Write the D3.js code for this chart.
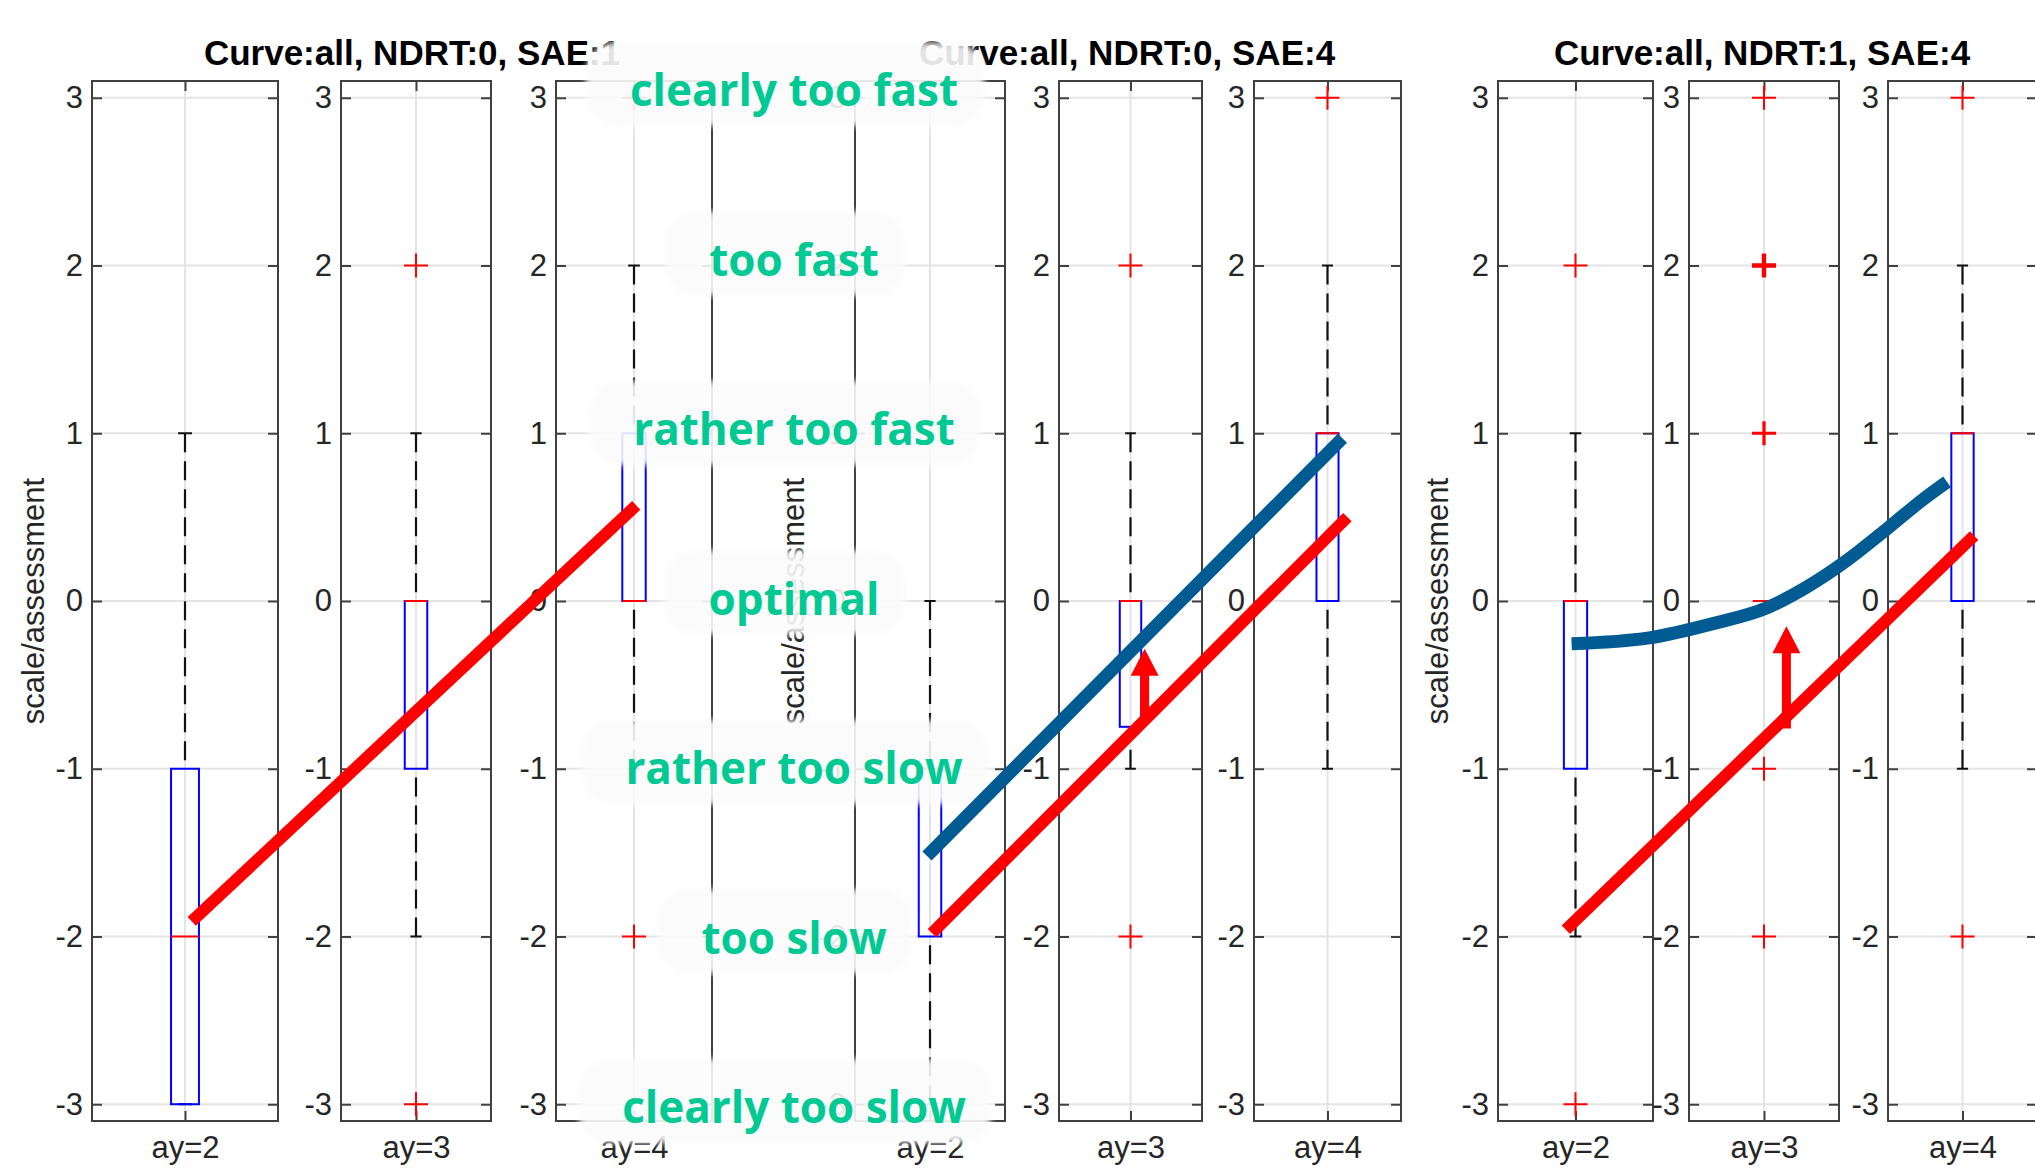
<!DOCTYPE html>
<html>
<head>
<meta charset="utf-8">
<script src="https://cdn.jsdelivr.net/npm/d3@7"></script>
<style>
  body { margin: 0; background: #fff; overflow: hidden; }
  svg { display: block; }
</style>
</head>
<body>
<div id="chart"></div>
<script>
// ---- data ----
const titles = ["Curve:all, NDRT:0, SAE:1", "Curve:all, NDRT:0, SAE:4", "Curve:all, NDRT:1, SAE:4"];
const categories = ["ay=2", "ay=3", "ay=4"];
const yTicks = [-3, -2, -1, 0, 1, 2, 3];
const yLabel = "scale/assessment";

// rating words for 3 .. -3
const ratingValues = [3, 2, 1, 0, -1, -2, -3];
const ratingNames = ["clearly too fast", "too fast", "rather too fast", "optimal",
                     "rather too slow", "too slow", "clearly too slow"];

// boxplot stats per category: [lower whisker, q1, median, q3, upper whisker]
const statsSAE1  = [[-3, -3, -2, -1, 1], [-2, -1, 0, 0, 1], [-1, 0, 0, 1, 2]];
const statsSAE4  = [[-3, -2, -1, -1, 0], [-1, -0.75, 0, 0, 1], [-1, 0, 1, 1, 2]];
const statsNDRT1 = [[-2, -1, 0, 0, 1], [0, 0, 0, 0, 0], [-1, 0, 1, 1, 2]];

// outliers per category: [value, count]
const outSAE1  = [[], [[2, 1], [-3, 1]], [[3, 1], [-2, 1]]];
const outSAE4  = [[], [[2, 1], [-2, 1]], [[3, 1]]];
const outNDRT1 = [[[2, 1], [-3, 1]], [[3, 1], [2, 3], [1, 2], [-1, 1], [-2, 1]], [[3, 1], [-2, 1]]];

// overlay curves, x in "ay" units
const redSAE1   = [[2.03, -1.91], [4.01, 0.57]];
const redSAE4   = [[2.01, -1.98], [4.10, 0.50]];
const blueSAE4  = [[1.985, -1.52], [4.075, 0.97]];
const redNDRT1  = [[1.95, -1.96], [4.06, 0.39]];
const blueNDRT1 = [[1.98, -0.255], [2.38, -0.22], [2.71, -0.135], [2.99, -0.04], [3.19, 0.08],
                   [3.40, 0.24], [3.62, 0.44], [3.79, 0.60], [3.92, 0.71]];
// arrows: [ay, from, to]
const arrowSAE4  = [3.08, -0.70, -0.285];
const arrowNDRT1 = [3.09, -0.76, -0.15];

// ---- layout ----
const W = 2035, H = 1170;
const TOP = 81, BOTTOM = 1121;
const AXIS = "#404040", TEXT = "#262626", GRID = "#e4e4e4";
const RED = "#ff0000", BLUE = "#005b93", GREEN = "#00c994";

const groups = [
  { title: titles[0], tx: 412,  lx: 33,   xs: [[92, 278], [341, 491], [556, 712]],
    stats: statsSAE1, outs: outSAE1, red: redSAE1, blue: null, smooth: false, arrow: null },
  { title: titles[1], tx: 1127, lx: 793,  xs: [[855, 1005], [1059, 1202], [1254, 1401]],
    stats: statsSAE4, outs: outSAE4, red: redSAE4, blue: blueSAE4, smooth: false, arrow: arrowSAE4 },
  { title: titles[2], tx: 1762, lx: 1437, xs: [[1498, 1653], [1689, 1839], [1888, 2037]],
    stats: statsNDRT1, outs: outNDRT1, red: redNDRT1, blue: blueNDRT1, smooth: true, arrow: arrowNDRT1 }
];

const svg = d3.select("#chart").append("svg")
  .attr("width", W).attr("height", H)
  .style("font-family", "'Liberation Sans', Arial, Helvetica, sans-serif");

svg.append("defs").append("filter").attr("id", "soft")
  .attr("x", "-20%").attr("y", "-30%").attr("width", "140%").attr("height", "160%")
  .append("feGaussianBlur").attr("stdDeviation", 3);

const y = d3.scaleLinear().domain([-3.1, 3.1]).range([BOTTOM, TOP]);
// baselines of the rating notes (slightly wider spread than the axis ticks)
const noteY = d3.scaleLinear().domain([-3, 3]).range([1123, 106]);

const axesLayer = svg.append("g");
const markLayer = svg.append("g");
const textLayer = svg.append("g");
const noteLayer = svg.append("g");
const overLayer = svg.append("g");

function styleAxis(g) {
  g.select(".domain").remove();
  g.selectAll(".tick line").attr("stroke", AXIS).attr("stroke-width", 2);
  g.selectAll(".tick text").attr("fill", TEXT).attr("font-size", 31)
    .attr("font-family", "'Liberation Sans', Arial, sans-serif");
}

function drawBox(g, cx, bw, s, outs) {
  const [lo, q1, med, q3, hi] = s;
  const cw = bw / 2;
  // whiskers
  [[q3, hi], [q1, lo]].forEach(([a, b]) => {
    if (a !== b) {
      g.append("line").attr("x1", cx).attr("x2", cx).attr("y1", y(b)).attr("y2", y(a))
        .attr("stroke", "#111").attr("stroke-width", 2.2).attr("stroke-dasharray", "19,9");
    }
  });
  // caps
  [lo, hi].forEach(v => {
    g.append("line").attr("x1", cx - cw / 2).attr("x2", cx + cw / 2)
      .attr("y1", y(v)).attr("y2", y(v)).attr("stroke", "#111").attr("stroke-width", 2);
  });
  // box
  if (q3 > q1) {
    g.append("rect").attr("x", cx - bw / 2).attr("y", y(q3))
      .attr("width", bw).attr("height", y(q1) - y(q3))
      .attr("fill", "none").attr("stroke", "#0000ff").attr("stroke-width", 2);
  }
  // median
  g.append("line").attr("x1", cx - bw / 2).attr("x2", cx + bw / 2)
    .attr("y1", y(med)).attr("y2", y(med)).attr("stroke", RED).attr("stroke-width", 2);
  // outliers
  const m = 12;
  outs.forEach(([v, n]) => {
    const sw = 2 + (n - 1) * 1.2;
    g.append("path")
      .attr("d", `M${cx - m},${y(v)}H${cx + m}M${cx},${y(v) - m}V${y(v) + m}`)
      .attr("stroke", RED).attr("stroke-width", sw).attr("fill", "none");
  });
}

groups.forEach(gr => {
  const centers = [];
  gr.xs.forEach((xr, i) => {
    const x = d3.scalePoint().domain([categories[i]]).range(xr).padding(0.5);
    const cx = x(categories[i]);
    centers.push(cx);
    const ax = axesLayer.append("g");

    // grid
    ax.selectAll(".hg").data(yTicks).join("line")
      .attr("x1", xr[0]).attr("x2", xr[1])
      .attr("y1", d => y(d)).attr("y2", d => y(d))
      .attr("stroke", GRID).attr("stroke-width", 2);
    ax.append("line").attr("x1", cx).attr("x2", cx).attr("y1", TOP).attr("y2", BOTTOM)
      .attr("stroke", GRID).attr("stroke-width", 2);

    // axes with inward ticks
    ax.append("g").attr("transform", `translate(${xr[0]},0)`)
      .call(d3.axisLeft(y).tickValues(yTicks).tickSize(-10).tickSizeOuter(0)
        .tickPadding(9).tickFormat(d => String(d)))
      .call(styleAxis);
    ax.append("g").attr("transform", `translate(${xr[1]},0)`)
      .call(d3.axisRight(y).tickValues(yTicks).tickSize(-10).tickSizeOuter(0).tickFormat(""))
      .call(styleAxis);
    ax.append("g").attr("transform", `translate(0,${TOP})`)
      .call(d3.axisTop(x).tickSize(-10).tickSizeOuter(0).tickFormat(""))
      .call(styleAxis);
    ax.append("g").attr("transform", `translate(0,${BOTTOM})`)
      .call(d3.axisBottom(x).tickSize(-10).tickSizeOuter(0).tickPadding(15))
      .call(styleAxis);

    ax.append("rect").attr("x", xr[0]).attr("y", TOP)
      .attr("width", xr[1] - xr[0]).attr("height", BOTTOM - TOP)
      .attr("fill", "none").attr("stroke", AXIS).attr("stroke-width", 2);

    drawBox(markLayer.append("g"), cx, 0.15 * (xr[1] - xr[0]), gr.stats[i], gr.outs[i]);
  });

  // title and y label
  textLayer.append("text").attr("x", gr.tx).attr("y", 65)
    .attr("text-anchor", "middle").attr("font-size", 35).attr("font-weight", "bold")
    .attr("fill", "#000").text(gr.title);
  textLayer.append("text")
    .attr("transform", `translate(${gr.lx + 11},${y(0)}) rotate(-90)`)
    .attr("text-anchor", "middle").attr("font-size", 31).attr("fill", TEXT).text(yLabel);

  // overlay lines
  const ox = d3.scaleLinear().domain([2, 4]).range([centers[0], centers[2]]);
  const line = d3.line().x(d => ox(d[0])).y(d => y(d[1]));
  overLayer.append("path").attr("d", line(gr.red))
    .attr("fill", "none").attr("stroke", RED).attr("stroke-width", 12);
  if (gr.blue) {
    const bl = gr.smooth ? d3.line().x(d => ox(d[0])).y(d => y(d[1])).curve(d3.curveMonotoneX) : line;
    overLayer.append("path").attr("d", bl(gr.blue))
      .attr("fill", "none").attr("stroke", BLUE).attr("stroke-width", 13);
  }
  if (gr.arrow) {
    const [a, from, to] = gr.arrow;
    const ax0 = ox(a), yTip = y(to), headH = 27, headW = 28;
    overLayer.append("line").attr("x1", ax0).attr("x2", ax0)
      .attr("y1", y(from)).attr("y2", yTip + headH - 1)
      .attr("stroke", RED).attr("stroke-width", 9);
    overLayer.append("path")
      .attr("d", `M${ax0},${yTip}L${ax0 + headW / 2},${yTip + headH}L${ax0 - headW / 2},${yTip + headH}Z`)
      .attr("fill", RED);
  }
});

// rating notes with soft white backgrounds
const NOTE_X = 794;
ratingValues.forEach((v, i) => {
  const g = noteLayer.append("g");
  const bg = g.append("rect");
  const base = noteY(v);
  const t = g.append("text").attr("x", NOTE_X).attr("y", base)
    .attr("text-anchor", "middle")
    .attr("font-family", "'Open Sans', 'Noto Sans', sans-serif")
    .attr("font-weight", "bold").attr("font-size", 44)
    .attr("fill", GREEN).text(ratingNames[i]);
  const tw = t.node().getComputedTextLength();
  const bw = tw + 70, bh = 84;
  bg.attr("x", NOTE_X - 9 - bw / 2).attr("y", base - 22 - bh / 2)
    .attr("width", bw).attr("height", bh).attr("rx", 30)
    .attr("fill", "#fbfbfb").attr("opacity", 0.9).attr("filter", "url(#soft)");
});
</script>
</body>
</html>
